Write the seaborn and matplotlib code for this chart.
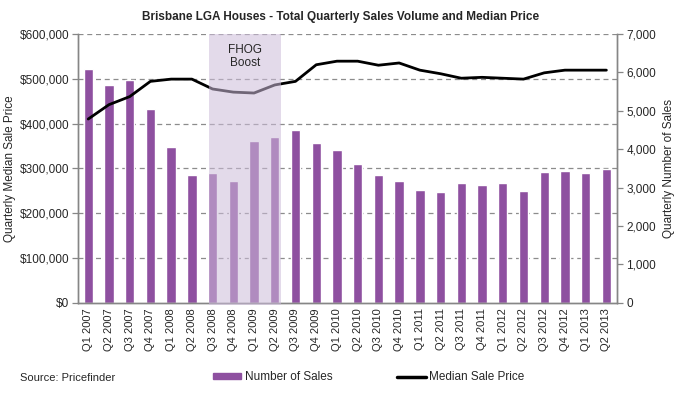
import numpy as np
import pandas as pd
import seaborn as sns
import matplotlib.pyplot as plt
from matplotlib.lines import Line2D
from matplotlib.patches import Patch
from matplotlib.ticker import FuncFormatter, MultipleLocator

quarters = ['Q1 2007', 'Q2 2007', 'Q3 2007', 'Q4 2007', 'Q1 2008', 'Q2 2008',
            'Q3 2008', 'Q4 2008', 'Q1 2009', 'Q2 2009', 'Q3 2009', 'Q4 2009',
            'Q1 2010', 'Q2 2010', 'Q3 2010', 'Q4 2010', 'Q1 2011', 'Q2 2011',
            'Q3 2011', 'Q4 2011', 'Q1 2012', 'Q2 2012', 'Q3 2012', 'Q4 2012',
            'Q1 2013', 'Q2 2013']
sales = [6090, 5680, 5810, 5050, 4060, 3340, 3390, 3180, 4220, 4320, 4500, 4170,
         3980, 3620, 3330, 3180, 2940, 2890, 3130, 3070, 3130, 2920, 3410, 3440,
         3390, 3490]
median_price = [410000, 442000, 460000, 494000, 499000, 499000, 477000, 470000,
                468000, 486000, 494000, 531000, 539000, 539000, 530000, 535000,
                519000, 511000, 501000, 503000, 501000, 499000, 513000, 519000,
                519000, 519000]
fhog_start, fhog_end = 'Q3 2008', 'Q2 2009'

df = pd.DataFrame({'Quarter': quarters, 'Sales': sales, 'Price': median_price})
df['pos'] = np.arange(len(df))

sns.set_style('white')
plt.rcParams['font.family'] = ['Liberation Sans', 'DejaVu Sans']

bar_color = '#8E50A0'
grey = '#868686'

fig = plt.figure(figsize=(6.83, 3.98), dpi=100)
ax = fig.add_axes([0.114, 0.239, 0.789, 0.676])
ax2 = ax.twinx()

# bars on the right axis, drawn underneath the price axis
sns.barplot(data=df, x='pos', y='Sales', ax=ax2, color=bar_color, width=0.45,
            saturation=1, native_scale=True, zorder=2)
ax2.set_ylim(0, 7000)
ax.set_ylim(0, 600000)
ax.set_xlim(-0.5, len(df) - 0.5)
ax.set_zorder(ax2.get_zorder() + 1)
ax.patch.set_visible(False)

# gridlines follow the left axis but sit behind the bars
for v in range(100000, 600001, 100000):
    ax2.axhline(v / 600000 * 7000, color='#8c8c8c', lw=0.9, ls=(0, (4, 3)), zorder=1)

sns.lineplot(data=df, x='pos', y='Price', ax=ax, color='black', lw=2.0, zorder=3)

# FHOG period overlay
i0 = quarters.index(fhog_start)
i1 = quarters.index(fhog_end)
ax.axvspan(i0 - 0.17, i1 + 0.29, ymin=-0.008, ymax=1, color='#CDBCDA', alpha=0.55,
           lw=0, zorder=5, clip_on=False)
ax.text((i0 + i1) / 2 + 0.06, 550000, 'FHOG\nBoost', ha='center', va='center',
        fontsize=8.5, linespacing=1.1, zorder=6)

ax.yaxis.set_major_locator(MultipleLocator(100000))
ax.yaxis.set_major_formatter(FuncFormatter(lambda v, p: f'${v:,.0f}'))
ax2.yaxis.set_major_locator(MultipleLocator(1000))
ax2.yaxis.set_major_formatter(FuncFormatter(lambda v, p: f'{v:,.0f}'))

ax.set_xticks(df['pos'])
ax.set_xticklabels(quarters, rotation=90, fontsize=8)
ax.set_xticks(np.arange(-0.5, len(df), 1), minor=True)
ax.tick_params(axis='x', which='major', length=0, pad=4)
ax.tick_params(axis='x', which='minor', length=4, color=grey, width=0.9)
ax.tick_params(axis='y', length=4, color=grey, width=0.9, labelsize=8.5, pad=2)
ax2.tick_params(axis='y', length=4, color=grey, width=0.9, labelsize=8.5, pad=3)
ax2.set_xlabel('')
ax.set_xlabel('')

ax.set_ylabel('Quarterly Median Sale Price', fontsize=8.5, labelpad=3)
ax2.set_ylabel('Quarterly Number of Sales', fontsize=8.5, labelpad=5)

for a in (ax, ax2):
    a.spines['top'].set_visible(False)
    for s in ('left', 'right', 'bottom'):
        a.spines[s].set_color(grey)
        a.spines[s].set_linewidth(1.0)
ax2.grid(False)
ax.grid(False)

fig.text(0.498, 0.957, 'Brisbane LGA Houses - Total Quarterly Sales Volume and Median Price',
         ha='center', va='center', fontsize=8.5, fontweight='bold')
fig.text(0.03, 0.05, 'Source: Pricefinder', ha='left', va='center', fontsize=8)

handles = [Patch(color=bar_color, label='Number of Sales'),
           Line2D([], [], color='black', lw=2.5, label='Median Sale Price')]
fig.legend(handles=handles, loc='center', bbox_to_anchor=(0.54, 0.052), ncol=2,
           frameon=False, fontsize=8.5, handlelength=2.4, handleheight=0.4,
           handletextpad=0.3, columnspacing=5.5)

fig.savefig('out.png', dpi=100)
